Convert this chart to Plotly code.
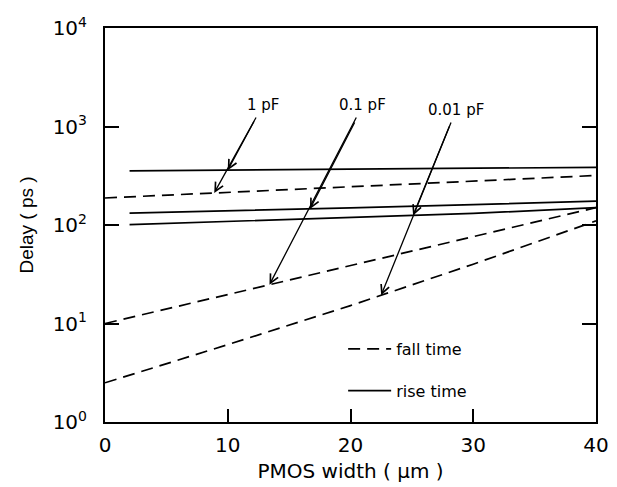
import numpy as np
import plotly.graph_objects as go

# ---- data ----
x_fall = [0, 10, 20, 30, 40]
fall_1pF = [188, 215, 245, 280, 318]
fall_01pF = [10, 19.7, 38.8, 76, 150]
fall_001pF = [2.5, 6.1, 15.2, 40, 110]

x_rise = [2, 10, 20, 30, 40]
rise_1pF = [355, 360, 367, 375, 385]
rise_01pF = [132, 139, 149, 161, 175]
rise_001pF = [101, 109, 119, 131, 150]

cap_labels = ["1 pF", "0.1 pF", "0.01 pF"]
# x positions where each label's arrow meets the fall (dashed) and rise (solid) curves
arrow_fall_x = [8.9, 13.4, 22.5]
arrow_rise_x = [10.0, 16.7, 25.1]

y_tickvals = [1, 10, 100, 1000, 10000]
y_ticktext = ["10<sup>0</sup>", "10<sup>1</sup>", "10<sup>2</sup>", "10<sup>3</sup>", "10<sup>4</sup>"]
x_tickvals = [0, 10, 20, 30, 40]

FONT = "DejaVu Sans, Verdana, sans-serif"
FONT_NARROW = "Liberation Sans, Arial, sans-serif"
DASH = "12px,7px"
LW = 1.7

fig = go.Figure()

fall_series = [fall_1pF, fall_01pF, fall_001pF]
rise_series = [rise_1pF, rise_01pF, rise_001pF]

for i, ys in enumerate(fall_series):
    fig.add_trace(go.Scatter(x=x_fall, y=ys, mode="lines",
                             line=dict(color="black", width=LW, dash=DASH),
                             name="fall time", legendgroup="fall",
                             showlegend=(i == 0)))
for i, ys in enumerate(rise_series):
    fig.add_trace(go.Scatter(x=x_rise, y=ys, mode="lines",
                             line=dict(color="black", width=LW),
                             name="rise time", legendgroup="rise",
                             showlegend=(i == 0)))

# label centres in data coordinates (x, log10 y)
label_pos = [(12.87, 3.218), (21.0, 3.218), (28.6, 3.168)]
# arrow tails (just below labels) for the second arrowhead
tails = [(12.2, 3.066), (20.4, 3.056), (28.1, 3.015)]

annotations = []
for k in range(3):
    lx, ly = label_pos[k]
    fy = np.interp(arrow_fall_x[k], x_fall, np.log10(fall_series[k]))
    ry = np.interp(arrow_rise_x[k], x_rise, np.log10(rise_series[k]))
    tx, ty = tails[k]
    # label with arrow to the fall (dashed) curve
    annotations.append(dict(x=arrow_fall_x[k], y=fy, xref="x", yref="y",
                            ax=lx, ay=ly, axref="x", ayref="y",
                            text=cap_labels[k], showarrow=True,
                            arrowhead=5, arrowsize=1.3, arrowwidth=1.3,
                            arrowcolor="black", standoff=0, borderpad=3,
                            font=dict(family=FONT, size=15, color="black")))
    # second arrowhead on the rise (solid) curve
    annotations.append(dict(x=arrow_rise_x[k], y=ry, xref="x", yref="y",
                            ax=tx, ay=ty, axref="x", ayref="y",
                            text="", showarrow=True,
                            arrowhead=5, arrowsize=1.3, arrowwidth=1.3,
                            arrowcolor="black", standoff=0))

fig.update_layout(
    width=617, height=487,
    margin=dict(l=97, r=29, t=20, b=73, autoexpand=False),
    paper_bgcolor="white", plot_bgcolor="white",
    font=dict(family=FONT, size=20, color="black"),
    annotations=annotations,
    showlegend=True,
    legend=dict(x=0.485, y=0.132, xanchor="left", yanchor="middle",
                bgcolor="rgba(0,0,0,0)", font=dict(family=FONT, size=16),
                tracegroupgap=18, traceorder="grouped", itemwidth=43),
)

fig.update_xaxes(range=[0, 40], tickvals=x_tickvals, ticks="inside", ticklen=13,
                 tickwidth=1.5, tickcolor="black", showline=True, linewidth=2,
                 linecolor="black", mirror=True, showgrid=False, zeroline=False,
                 automargin=False, tickfont=dict(family=FONT, size=20), ticklabelstandoff=4,
                 title=dict(text="PMOS width ( μm )", font=dict(family=FONT, size=20), standoff=8))
fig.update_yaxes(type="log", range=[0, 4], tickvals=y_tickvals, ticktext=y_ticktext,
                 ticks="inside", ticklen=14, tickwidth=1.5, tickcolor="black",
                 showline=True, linewidth=2, linecolor="black", mirror="ticks",
                 showgrid=False, zeroline=False, automargin=False,
                 tickfont=dict(family=FONT, size=20), ticklabelstandoff=12,
                 title=dict(text="Delay ( ps )", font=dict(family=FONT_NARROW, size=19), standoff=14))

fig.write_html("out.html")
